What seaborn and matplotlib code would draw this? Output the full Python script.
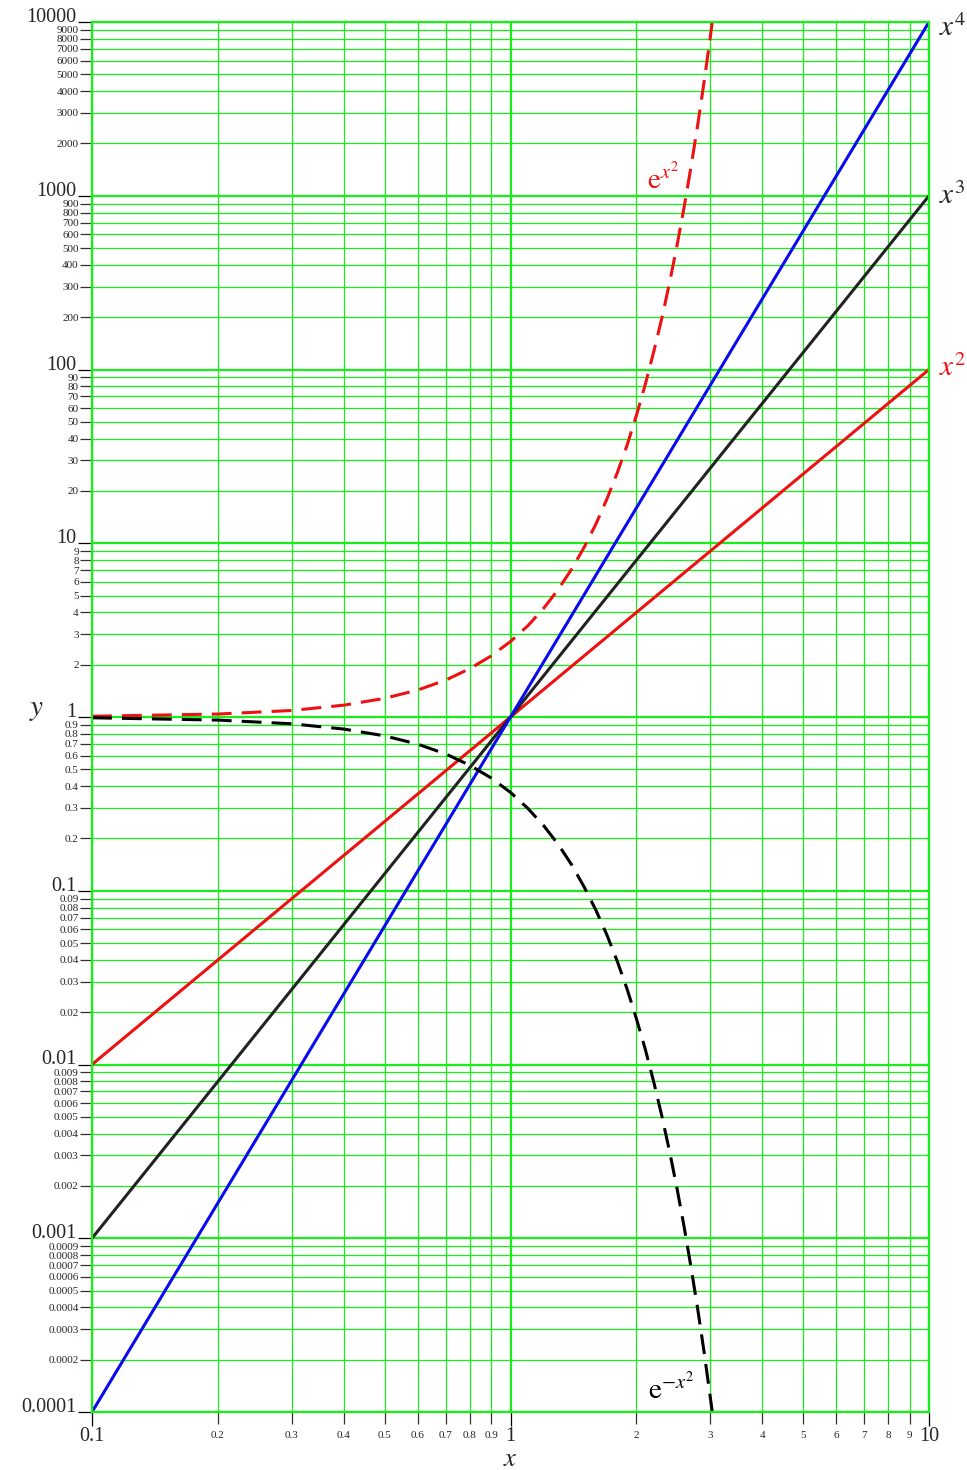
import numpy as np
import pandas as pd
import matplotlib
matplotlib.use("Agg")
import matplotlib.pyplot as plt
import seaborn as sns
from matplotlib.ticker import FixedLocator, FixedFormatter

sns.set_style("white")
plt.rcParams['font.family'] = ['Liberation Serif', 'DejaVu Serif']
plt.rcParams['mathtext.fontset'] = 'stix'

# ---- data ----
x_line = [0.1, 10.0]
y_x2 = [0.01, 100.0]
y_x3 = [0.001, 1000.0]
y_x4 = [0.0001, 10000.0]

x_exp = [0.1, 0.2, 0.3, 0.4, 0.5, 0.6, 0.7, 0.8, 0.9, 1.0, 1.1, 1.2, 1.3, 1.4, 1.5,
         1.6, 1.7, 1.8, 1.9, 2.0, 2.1, 2.2, 2.3, 2.4, 2.5, 2.6, 2.7, 2.8, 2.9, 3.0, 3.035]
y_exp_pos = [1.01, 1.04, 1.09, 1.17, 1.28, 1.43, 1.63, 1.90, 2.25, 2.72, 3.35, 4.22, 5.42,
             7.10, 9.49, 12.9, 18.0, 25.5, 36.8, 54.6, 82.3, 127, 198, 317, 518, 864,
             1470, 2540, 4490, 8100, 10000]
y_exp_neg = [0.99, 0.96, 0.914, 0.852, 0.779, 0.698, 0.613, 0.527, 0.445, 0.368, 0.298,
             0.237, 0.185, 0.141, 0.105, 0.0773, 0.0556, 0.0392, 0.0271, 0.0183, 0.0122,
             0.00791, 0.00504, 0.00315, 0.00193, 0.00116, 0.00068, 0.000394, 0.000223,
             0.000123, 0.0001]

x_major = [0.1, 1, 10]
x_major_labels = ["0.1", "1", "10"]
x_minor = [0.2, 0.3, 0.4, 0.5, 0.6, 0.7, 0.8, 0.9, 2, 3, 4, 5, 6, 7, 8, 9]
x_minor_labels = ["0.2", "0.3", "0.4", "0.5", "0.6", "0.7", "0.8", "0.9",
                  "2", "3", "4", "5", "6", "7", "8", "9"]
y_major = [0.0001, 0.001, 0.01, 0.1, 1, 10, 100, 1000, 10000]
y_major_labels = ["0.0001", "0.001", "0.01", "0.1", "1", "10", "100", "1000", "10000"]
y_minor_labels = []
y_minor = []
for base, fmt in [(0.0001, "0.000{}"), (0.001, "0.00{}"), (0.01, "0.0{}"), (0.1, "0.{}"),
                  (1, "{}"), (10, "{}0"), (100, "{}00"), (1000, "{}000")]:
    for k in range(2, 10):
        y_minor.append(base * k)
        y_minor_labels.append(fmt.format(k))

GREEN = '#1aee1a'

fig = plt.figure(figsize=(9.67, 14.7), dpi=100)
ax = fig.add_axes([92/967, 1 - 1412/1470, (929-92)/967, (1412-22)/1470])
ax.set_xscale('log')
ax.set_yscale('log')
ax.set_xlim(0.1, 10)
ax.set_ylim(1e-4, 1e4)

ax.xaxis.set_major_locator(FixedLocator(x_major))
ax.xaxis.set_major_formatter(FixedFormatter(x_major_labels))
ax.xaxis.set_minor_locator(FixedLocator(x_minor))
ax.xaxis.set_minor_formatter(FixedFormatter(x_minor_labels))
ax.yaxis.set_major_locator(FixedLocator(y_major))
ax.yaxis.set_major_formatter(FixedFormatter(y_major_labels))
ax.yaxis.set_minor_locator(FixedLocator(y_minor))
ax.yaxis.set_minor_formatter(FixedFormatter(y_minor_labels))

ax.grid(True, which='major', color=GREEN, lw=1.6)
ax.grid(True, which='minor', color=GREEN, lw=0.9)
ax.set_axisbelow(True)
for sp in ax.spines.values():
    sp.set_color(GREEN)
    sp.set_linewidth(1.6)

ax.tick_params(which='major', direction='out', length=10, width=0.9, color='black',
               labelsize=14.5, pad=1, left=True, bottom=True)
ax.tick_params(which='minor', direction='out', length=8.5, width=0.9, color='#333333',
               labelsize=8, pad=1, left=True, bottom=True)
ax.tick_params(axis='x', which='major', pad=1)
ax.tick_params(axis='x', which='minor', pad=5)

# curves
sns.lineplot(x=x_line, y=y_x2, ax=ax, color='#ee1111', lw=2.2)
sns.lineplot(x=x_line, y=y_x3, ax=ax, color='#222222', lw=2.2)
sns.lineplot(x=x_line, y=y_x4, ax=ax, color='#0a0aee', lw=2.2)
sns.lineplot(x=x_exp, y=y_exp_pos, ax=ax, color='#ee1111', lw=2.2, linestyle=(0, (6.5, 3.3)))
sns.lineplot(x=x_exp, y=y_exp_neg, ax=ax, color='black', lw=2.2, linestyle=(0, (6.5, 3.3)))

# labels
ax.text(10.55, 9200, r'$x^4$', fontsize=21, va='center', ha='left', clip_on=False)
ax.text(10.55, 1000, r'$x^3$', fontsize=21, va='center', ha='left', clip_on=False)
ax.text(10.55, 102, r'$x^2$', fontsize=21, va='center', ha='left', color='#ee1111', clip_on=False)
ax.text(2.12, 1250, r'$\mathrm{e}^{x^2}$', fontsize=21, va='center', ha='left', color='#ee1111')
ax.text(2.13, 0.000135, r'$\mathrm{e}^{-x^2}$', fontsize=21, va='center', ha='left', color='black')
ax.text(-0.066, 0.505, r'$y$', fontsize=21, transform=ax.transAxes, ha='center', va='center')
ax.text(0.4994, -0.0345, r'$x$', fontsize=19, transform=ax.transAxes, ha='center', va='center')

ax.set_xlabel('')
ax.set_ylabel('')

for lab in ax.yaxis.get_majorticklabels():
    lab.set_va('baseline')

fig.savefig('out.png', dpi=100)
